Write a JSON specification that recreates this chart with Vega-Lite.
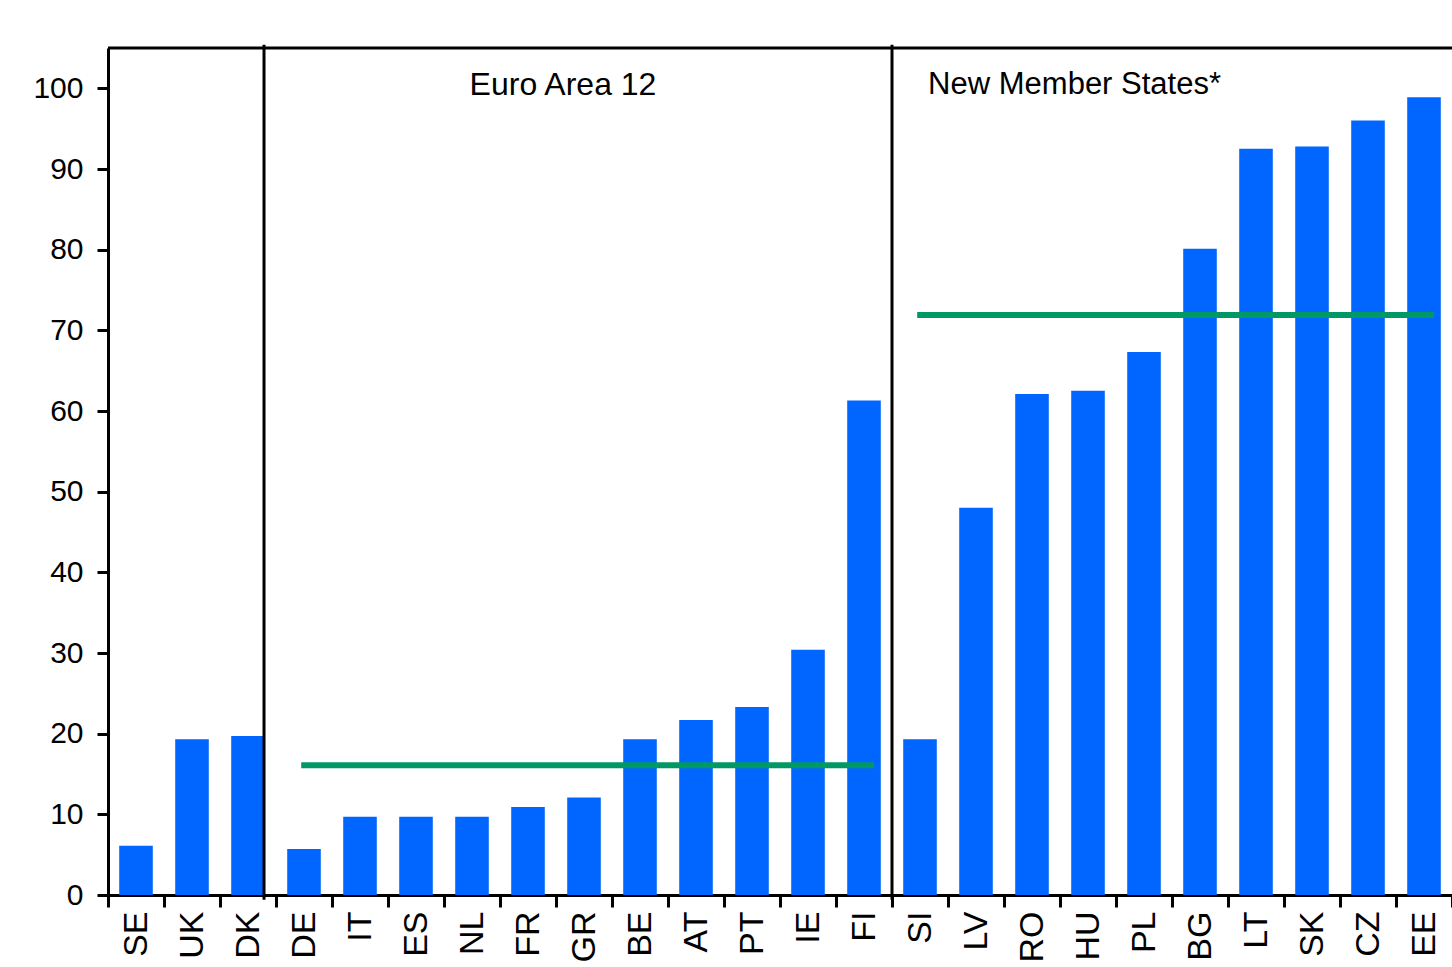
{
  "$schema": "https://vega.github.io/schema/vega-lite/v6.json",
  "width": 1344,
  "height": 847,
  "autosize": {"type": "none"},
  "padding": {"left": 108, "top": 48, "right": 0, "bottom": 72},
  "background": "white",
  "config": {
    "view": {"stroke": null},
    "font": "Liberation Sans",
    "axis": {
      "grid": false,
      "title": null,
      "domainColor": "black",
      "domainWidth": 3,
      "tickColor": "black",
      "tickWidth": 3,
      "labelColor": "black",
      "labelFont": "Liberation Sans"
    }
  },
  "datasets": {
    "bars": [
      {"country": "SE", "value": 6.1},
      {"country": "UK", "value": 19.3},
      {"country": "DK", "value": 19.7},
      {"country": "DE", "value": 5.7},
      {"country": "IT", "value": 9.7},
      {"country": "ES", "value": 9.7},
      {"country": "NL", "value": 9.7},
      {"country": "FR", "value": 10.9},
      {"country": "GR", "value": 12.1},
      {"country": "BE", "value": 19.3},
      {"country": "AT", "value": 21.7},
      {"country": "PT", "value": 23.3},
      {"country": "IE", "value": 30.4},
      {"country": "FI", "value": 61.3},
      {"country": "SI", "value": 19.3},
      {"country": "LV", "value": 48.0},
      {"country": "RO", "value": 62.1},
      {"country": "HU", "value": 62.5},
      {"country": "PL", "value": 67.3},
      {"country": "BG", "value": 80.1},
      {"country": "LT", "value": 92.5},
      {"country": "SK", "value": 92.8},
      {"country": "CZ", "value": 96.0},
      {"country": "EE", "value": 98.9}
    ],
    "avg": [
      {"from": "DE", "to": "FI", "avg": 16.1},
      {"from": "SI", "to": "EE", "avg": 71.9}
    ]
  },
  "layer": [
    {
      "data": {"name": "bars"},
      "mark": {"type": "bar", "color": "#0066FF", "width": {"band": 0.6}},
      "encoding": {
        "x": {
          "field": "country",
          "type": "nominal",
          "sort": null,
          "scale": {
            "domain": ["SE","UK","DK","DE","IT","ES","NL","FR","GR","BE","AT","PT","IE","FI","SI","LV","RO","HU","PL","BG","LT","SK","CZ","EE"],
            "paddingInner": 0,
            "paddingOuter": 0
          },
          "axis": {
            "labelAngle": 270,
            "labelAlign": "right",
            "labelBaseline": "middle",
            "labelFontSize": 34,
            "labelPadding": 4,
            "tickSize": 12,
            "tickBand": "extent"
          }
        },
        "y": {
          "field": "value",
          "type": "quantitative",
          "scale": {"domain": [0, 105], "nice": false},
          "axis": {
            "values": [0, 10, 20, 30, 40, 50, 60, 70, 80, 90, 100],
            "labelFontSize": 30,
            "labelPadding": 14,
            "tickSize": 11
          }
        }
      }
    },
    {
      "data": {"name": "avg"},
      "mark": {"type": "rule", "color": "#009966", "strokeWidth": 6},
      "encoding": {
        "x": {"field": "from", "type": "nominal", "bandPosition": 0.45},
        "x2": {"field": "to", "bandPosition": 0.68},
        "y": {"field": "avg", "type": "quantitative"}
      }
    },
    {
      "data": {"values": [{"sep": "DK"}]},
      "mark": {"type": "rule", "color": "black", "strokeWidth": 3},
      "encoding": {
        "x": {"field": "sep", "type": "nominal", "bandPosition": 0.786},
        "y": {"datum": 105.4},
        "y2": {"datum": -0.6}
      }
    },
    {
      "data": {"values": [{"sep": "FI"}]},
      "mark": {"type": "rule", "color": "black", "strokeWidth": 3},
      "encoding": {
        "x": {"field": "sep", "type": "nominal", "bandPosition": 1},
        "y": {"datum": 105.4},
        "y2": {"datum": -0.6}
      }
    },
    {
      "data": {"values": [{"top": 105}]},
      "mark": {"type": "rule", "color": "black", "strokeWidth": 3},
      "encoding": {
        "y": {"field": "top", "type": "quantitative"}
      }
    },
    {
      "data": {"values": [{"label": "Euro Area 12", "at": "GR"}]},
      "mark": {"type": "text", "fontSize": 32, "color": "black", "align": "center", "baseline": "middle"},
      "encoding": {
        "x": {"field": "at", "type": "nominal", "bandPosition": 0.125},
        "y": {"datum": 100.4},
        "text": {"field": "label"}
      }
    },
    {
      "data": {"values": [{"label": "New  Member  States*", "at": "HU"}]},
      "mark": {"type": "text", "fontSize": 31, "color": "black", "align": "center", "baseline": "middle"},
      "encoding": {
        "x": {"field": "at", "type": "nominal", "bandPosition": 0.26},
        "y": {"datum": 100.4},
        "text": {"field": "label"}
      }
    }
  ]
}
